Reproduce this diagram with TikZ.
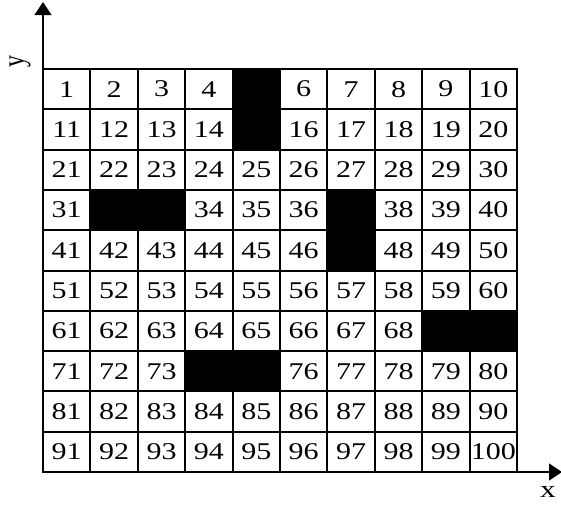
\documentclass[tikz,border=0pt]{standalone}
\usepackage{fontspec}
\setmainfont{Liberation Serif}
\usetikzlibrary{arrows.meta}
\begin{document}
\begin{tikzpicture}[x=1pt,y=-1pt,
  cell/.style={draw=black, line width=2pt, minimum width=47.4pt, minimum height=40.3pt, inner sep=0pt, font=\fontsize{24}{24}\selectfont},
  blocked/.style={cell, fill=black},
  axis/.style={line width=1.2pt, -{Triangle[length=13pt,width=17pt]}},
  lbl/.style={font=\fontsize{24}{24}\selectfont, inner sep=0pt}]
\useasboundingbox (0,0) rectangle (561,504);
\coordinate (o) at (43,472);
\coordinate (ytip) at (43,2);
\coordinate (xtip) at (562,472);
\draw[axis] (o) -- (ytip);
\draw[axis] (o) -- (xtip);
\foreach \i in {1,...,100}{
  \pgfmathtruncatemacro{\r}{div(\i-1,10)}
  \pgfmathtruncatemacro{\c}{mod(\i-1,10)}
  \pgfmathsetmacro{\cx}{43+47.4*(\c+0.5)}
  \pgfmathsetmacro{\cy}{69+40.3*(\r+0.5)}
  \ifnum\i=5 \def\blk{1}\else\ifnum\i=15 \def\blk{1}\else\ifnum\i=32 \def\blk{1}\else\ifnum\i=33 \def\blk{1}\else\ifnum\i=37 \def\blk{1}\else\ifnum\i=47 \def\blk{1}\else\ifnum\i=69 \def\blk{1}\else\ifnum\i=70 \def\blk{1}\else\ifnum\i=74 \def\blk{1}\else\ifnum\i=75 \def\blk{1}\else\def\blk{0}\fi\fi\fi\fi\fi\fi\fi\fi\fi\fi
  \ifnum\blk=1
    \node[blocked] (c\i) at (\cx,\cy) {};
  \else
    \node[cell] (c\i) at (\cx,\cy) {\scalebox{1.25}[1]{\i}};
  \fi
}
\node[lbl] (ylab) at (20,61) {\scalebox{1.3}[1]{\rotatebox{90}{y}}};
\node[lbl] (xlab) at (548,492) {\scalebox{1.3}[1]{x}};
\end{tikzpicture}
\end{document}
